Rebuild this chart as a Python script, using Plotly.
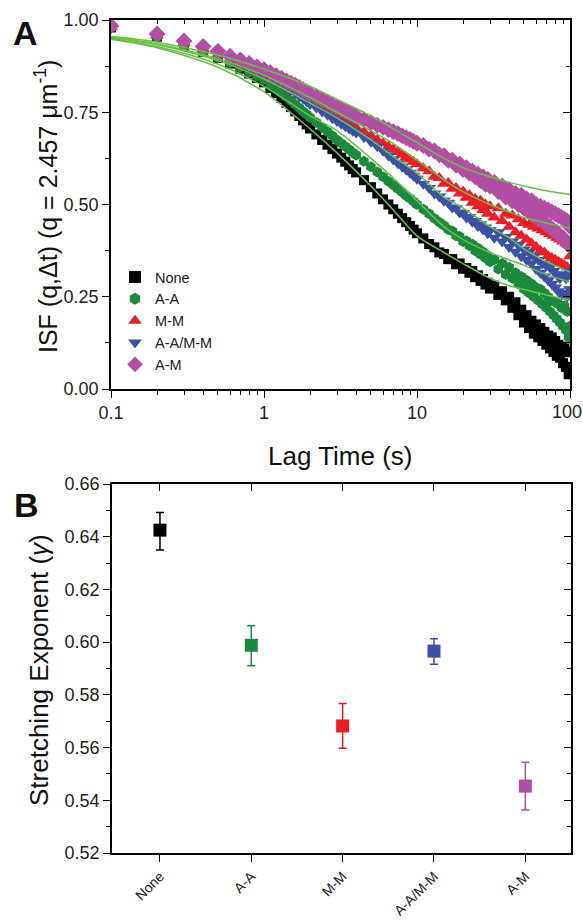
import plotly.graph_objects as go

# ---------------- Panel A data ----------------
LAG = [0.1, 0.2, 0.3, 0.4, 0.5, 0.6, 0.7, 0.8, 0.9, 1.0,
       1.1, 1.2, 1.3, 1.4, 1.5, 1.6, 1.7, 1.8, 1.9, 2.0,
       2.2, 2.4, 2.6, 2.8, 3.0, 3.2, 3.4, 3.6, 3.8, 4.0,
       4.5, 5, 5.5, 6, 6.5, 7, 7.5, 8, 8.5, 9, 9.5, 10,
       11, 12, 13, 14, 15, 16, 17, 18, 19, 20, 21, 22, 23, 24, 25, 26, 27, 28, 29, 30,
       32, 34, 36, 38, 40, 42, 44, 46, 48, 50, 52, 54, 56, 58, 60, 62, 64, 66, 68, 70,
       72, 74, 76, 78, 80, 82, 84, 86, 88, 90, 92, 94, 96, 98, 100]

ISF_NONE = [.98, .955, .933, .914, .897, .882, .868, .855, .843, .831,
            .816, .802, .789, .776, .764, .752, .740, .728, .717, .706,
            .690, .675, .662, .650, .638, .627, .616, .606, .596, .587,
            .566, .547, .530, .514, .500, .487, .475, .463, .452, .442, .432, .422,
            .408, .393, .384, .37, .366, .352, .352, .338, .34, .326, .328, .315, .32, .303, .308, .293, .298, .283, .288, .272,
            .28, .255, .265, .24, .25, .22, .235, .2, .215, .18, .2, .165, .185, .15, .175, .14, .165, .13, .155, .12,
            .145, .11, .14, .1, .13, .09, .12, .085, .115, .07, .11, .06, .1, .04, .1]

ISF_AA = [.98, .954, .932, .914, .898, .884, .871, .859, .848, .838,
          .825, .813, .802, .791, .781, .771, .762, .753, .744, .736,
          .722, .709, .697, .686, .675, .666, .657, .649, .641, .634,
          .617, .602, .588, .575, .563, .553, .543, .533, .524, .516, .508, .50,
          .487, .475, .462, .452, .443, .432, .428, .415, .413, .40, .402, .388, .392, .375, .382, .365, .372, .355, .362, .345,
          .35, .325, .34, .31, .33, .3, .315, .285, .305, .27, .295, .26, .285, .25, .275, .24, .27, .23, .26, .22,
          .25, .21, .24, .2, .235, .19, .23, .18, .22, .17, .225, .16, .21, .14, .17]

ISF_MM = [.982, .958, .937, .921, .906, .893, .881, .870, .860, .851,
          .843, .835, .827, .82, .813, .806, .799, .793, .787, .781,
          .772, .763, .755, .747, .74, .733, .727, .721, .715, .709,
          .697, .686, .675, .666, .657, .649, .642, .635, .628, .622, .616, .61,
          .598, .59, .575, .572, .556, .558, .543, .545, .53, .535, .518, .525, .505, .515, .495, .51, .485, .5, .475, .495,
          .465, .49, .455, .475, .44, .47, .425, .46, .415, .45, .405, .445, .395, .44, .385, .435, .375, .43, .37, .425,
          .36, .42, .355, .415, .35, .41, .345, .405, .34, .4, .335, .395, .33, .39, .36]

ISF_AAMM = [.982, .958, .938, .922, .907, .895, .883, .872, .862, .853,
            .844, .835, .826, .818, .81, .802, .794, .787, .78, .772,
            .762, .752, .743, .734, .726, .719, .712, .706, .70, .695,
            .682, .67, .658, .646, .633, .622, .612, .603, .594, .586, .578, .57,
            .556, .545, .53, .522, .51, .505, .492, .49, .478, .477, .465, .466, .453, .455, .442, .446, .432, .438, .422, .43,
            .41, .425, .4, .412, .385, .4, .372, .39, .36, .378, .35, .37, .34, .36, .325, .35, .315, .34, .305, .335,
            .295, .33, .285, .32, .275, .31, .265, .3, .255, .31, .26, .3, .25, .32, .27]

ISF_AM = [.984, .962, .943, .928, .915, .902, .892, .882, .873, .865,
          .857, .849, .842, .835, .829, .823, .817, .811, .806, .80,
          .792, .784, .777, .770, .764, .758, .753, .748, .743, .739,
          .73, .722, .715, .709, .703, .697, .692, .686, .681, .676, .671, .666,
          .66, .65, .645, .635, .632, .62, .62, .607, .61, .595, .6, .585, .59, .575, .582, .565, .575, .555, .568, .55,
          .56, .535, .55, .52, .54, .51, .53, .5, .525, .49, .515, .48, .51, .47, .5, .46, .495, .455, .49, .445,
          .485, .44, .48, .43, .475, .425, .47, .415, .465, .41, .46, .40, .455, .39, .44]

# stretched-exponential fit curves
FIT_T = [0.1, 0.2, 0.5, 1, 2, 3, 5, 7, 10, 15, 20, 30, 40, 50, 70, 100]
FIT_NONE = [.948, .925, .872, .805, .705, .64, .55, .485, .415, .37, .34, .30, .28, .27, .255, .241]
FIT_AA = [.95, .928, .88, .82, .74, .70, .625, .572, .51, .44, .405, .37, .35, .335, .31, .29]
FIT_MM = [.953, .935, .895, .85, .79, .75, .70, .665, .62, .567, .535, .50, .48, .465, .45, .435]
FIT_AAMM = [.952, .933, .89, .84, .775, .735, .675, .63, .585, .52, .49, .44, .41, .38, .345, .317]
FIT_AM = [.955, .94, .905, .867, .82, .785, .74, .705, .668, .625, .60, .575, .56, .55, .537, .527]

# ---------------- Panel B data ----------------
B_CATS = ["None", "A-A", "M-M", "A-A/M-M", "A-M"]
B_POS = [1, 2, 3, 4, 5]
B_VAL = [0.6425, 0.5988, 0.5682, 0.5966, 0.5454]
B_ERR_UP = [0.0067, 0.0074, 0.0085, 0.0047, 0.009]
B_ERR_DN = [0.0075, 0.0078, 0.0085, 0.0050, 0.0091]

X_TICKS = [0.1, 1, 10, 100]
X_TICKTEXT = ["0.1", "1", "10", ""]   # the last label is drawn right-aligned below
X_LAST_LABEL = "100"

NAMES = ["None", "A-A", "M-M", "A-A/M-M", "A-M"]
COLORS = ["#000000", "#1b8a3c", "#ee1d25", "#3c50a6", "#b24fa4"]
SYMBOLS = ["square", "hexagon", "triangle-up", "triangle-down", "diamond"]
SIZES = [10, 11, 12, 12, 13]
FITCOLOR = "#66c244"
FONT = "Liberation Sans, Arial, sans-serif"

fig = go.Figure()
series = [ISF_NONE, ISF_AA, ISF_MM, ISF_AAMM, ISF_AM]
for name, ys, c, s, sz in zip(NAMES, series, COLORS, SYMBOLS, SIZES):
    fig.add_trace(go.Scatter(x=LAG, y=ys, mode="markers", name=name,
                             marker=dict(symbol=s, size=sz, color=c, line=dict(width=0)),
                             xaxis="x", yaxis="y"))
for fy in [FIT_NONE, FIT_AA, FIT_MM, FIT_AAMM, FIT_AM]:
    fig.add_trace(go.Scatter(x=FIT_T, y=fy, mode="lines", showlegend=False,
                             line=dict(color=FITCOLOR, width=1.5, shape="spline", smoothing=0.8),
                             xaxis="x", yaxis="y", hoverinfo="skip"))

for i in range(5):
    fig.add_trace(go.Scatter(x=[B_POS[i]], y=[B_VAL[i]], mode="markers", showlegend=False,
                             marker=dict(symbol="square", size=13, color=COLORS[i]),
                             error_y=dict(type="data", symmetric=False, array=[B_ERR_UP[i]],
                                          arrayminus=[B_ERR_DN[i]], color=COLORS[i],
                                          thickness=1.5, width=4),
                             xaxis="x2", yaxis="y2"))

# dummy traces to activate mirror axes with inside ticks
for xa, ya in [("x3", "y"), ("x", "y3"), ("x4", "y2"), ("x2", "y4")]:
    fig.add_trace(go.Scatter(x=[None], y=[None], mode="markers", showlegend=False,
                             xaxis=xa, yaxis=ya, hoverinfo="skip"))

W, H = 583, 922
XA = [111 / W, 570 / W]
YA = [1 - 389 / H, 1 - 20 / H]
XB = [112 / W, 571 / W]
YB = [1 - 853 / H, 1 - 484 / H]

minor_log = [k * 10 ** e for e in (-1, 0, 1) for k in range(2, 10)]
tickfont = dict(family=FONT, size=18, color="#222")

common = dict(showline=True, linecolor="black", linewidth=1.5, showgrid=False, zeroline=False,
              tickcolor="black", tickwidth=1.3, automargin=False)

fig.update_layout(
    width=W, height=H, margin=dict(l=0, r=0, t=0, b=0, autoexpand=False),
    paper_bgcolor="white", plot_bgcolor="white",
    font=dict(family=FONT, color="#222"),
    showlegend=True,
    legend=dict(x=115 / W, y=1 - 261 / H, xanchor="left", yanchor="top",
                font=dict(family=FONT, size=14.5, color="#222"), bgcolor="rgba(0,0,0,0)",
                itemwidth=30, tracegroupgap=0, itemsizing="constant"),
    xaxis=dict(domain=XA, anchor="y", type="log", range=[-1, 2],
               tickvals=X_TICKS, ticktext=X_TICKTEXT,
               ticks="outside", ticklen=7, tickfont=tickfont,
               minor=dict(tickvals=minor_log, ticks="outside", ticklen=4, tickcolor="black", showgrid=False),
               **common),
    yaxis=dict(domain=YA, anchor="x", range=[0, 1],
               tickvals=[0, 0.25, 0.5, 0.75, 1.0], ticktext=["0.00", "0.25", "0.50", "0.75", "1.00"],
               ticks="outside", ticklen=7, tickfont=tickfont,
               minor=dict(tickvals=[0.125, 0.375, 0.625, 0.875], ticks="outside", ticklen=4,
                          tickcolor="black", showgrid=False),
               **common),
    xaxis3=dict(overlaying="x", side="top", anchor="y", type="log", range=[-1, 2],
                tickvals=X_TICKS, showticklabels=False, ticks="inside", ticklen=7,
                minor=dict(tickvals=minor_log, ticks="inside", ticklen=4, tickcolor="black", showgrid=False),
                **common),
    yaxis3=dict(overlaying="y", side="right", anchor="x", range=[0, 1],
                tickvals=[0, 0.25, 0.5, 0.75, 1.0], showticklabels=False, ticks="inside", ticklen=7,
                minor=dict(tickvals=[0.125, 0.375, 0.625, 0.875], ticks="inside", ticklen=4,
                           tickcolor="black", showgrid=False),
                **common),
    xaxis2=dict(domain=XB, anchor="y2", range=[0.475, 5.5],
                tickvals=B_POS, ticktext=B_CATS, tickangle=-45, ticklabelstandoff=1,
                ticks="outside", ticklen=7, tickfont=dict(family=FONT, size=14, color="#222"),
                **common),
    yaxis2=dict(domain=YB, anchor="x2", range=[0.52, 0.66],
                tickvals=[0.52, 0.54, 0.56, 0.58, 0.60, 0.62, 0.64, 0.66],
                ticktext=["0.52", "0.54", "0.56", "0.58", "0.60", "0.62", "0.64", "0.66"],
                ticks="outside", ticklen=7, tickfont=tickfont,
                minor=dict(tickvals=[0.53, 0.55, 0.57, 0.59, 0.61, 0.63, 0.65], ticks="outside",
                           ticklen=4, tickcolor="black", showgrid=False),
                **common),
    xaxis4=dict(overlaying="x2", side="top", anchor="y2", range=[0.475, 5.5],
                tickvals=B_POS, showticklabels=False, ticks="inside", ticklen=7, **common),
    yaxis4=dict(overlaying="y2", side="right", anchor="x2", range=[0.52, 0.66],
                tickvals=[0.52, 0.54, 0.56, 0.58, 0.60, 0.62, 0.64, 0.66], showticklabels=False,
                ticks="inside", ticklen=7,
                minor=dict(tickvals=[0.53, 0.55, 0.57, 0.59, 0.61, 0.63, 0.65], ticks="inside",
                           ticklen=4, tickcolor="black", showgrid=False),
                **common),
)

ann = [
    dict(text="<b>A</b>", x=25 / W, y=1 - 33 / H, size=34, angle=0),
    dict(text="<b>B</b>", x=26 / W, y=1 - 505 / H, size=34, angle=0),
    dict(text="Lag Time (s)", x=340 / W, y=1 - 456 / H, size=26, angle=0),
    dict(text="ISF (q,\u0394t) (q = 2.457 \u03bcm<sup>-1</sup>)", x=46 / W, y=1 - 207 / H, size=25, angle=-90),
    dict(text="Stretching Exponent (<i>\u03b3</i>)", x=39 / W, y=1 - 670 / H, size=26, angle=-90),
]
for a in ann:
    fig.add_annotation(text=a["text"], x=a["x"], y=a["y"], xref="paper", yref="paper",
                       showarrow=False, textangle=a["angle"], xanchor="center", yanchor="middle",
                       font=dict(family=FONT, size=a["size"], color="#111"))

# last x tick label of panel A, right-aligned so it stays inside the page
fig.add_annotation(text=X_LAST_LABEL, x=1.0, y=1 - 412 / H, xref="paper", yref="paper",
                   showarrow=False, xanchor="right", yanchor="middle", borderpad=0,
                   font=dict(family=FONT, size=18, color="#222"))

fig.write_html("out.html")
